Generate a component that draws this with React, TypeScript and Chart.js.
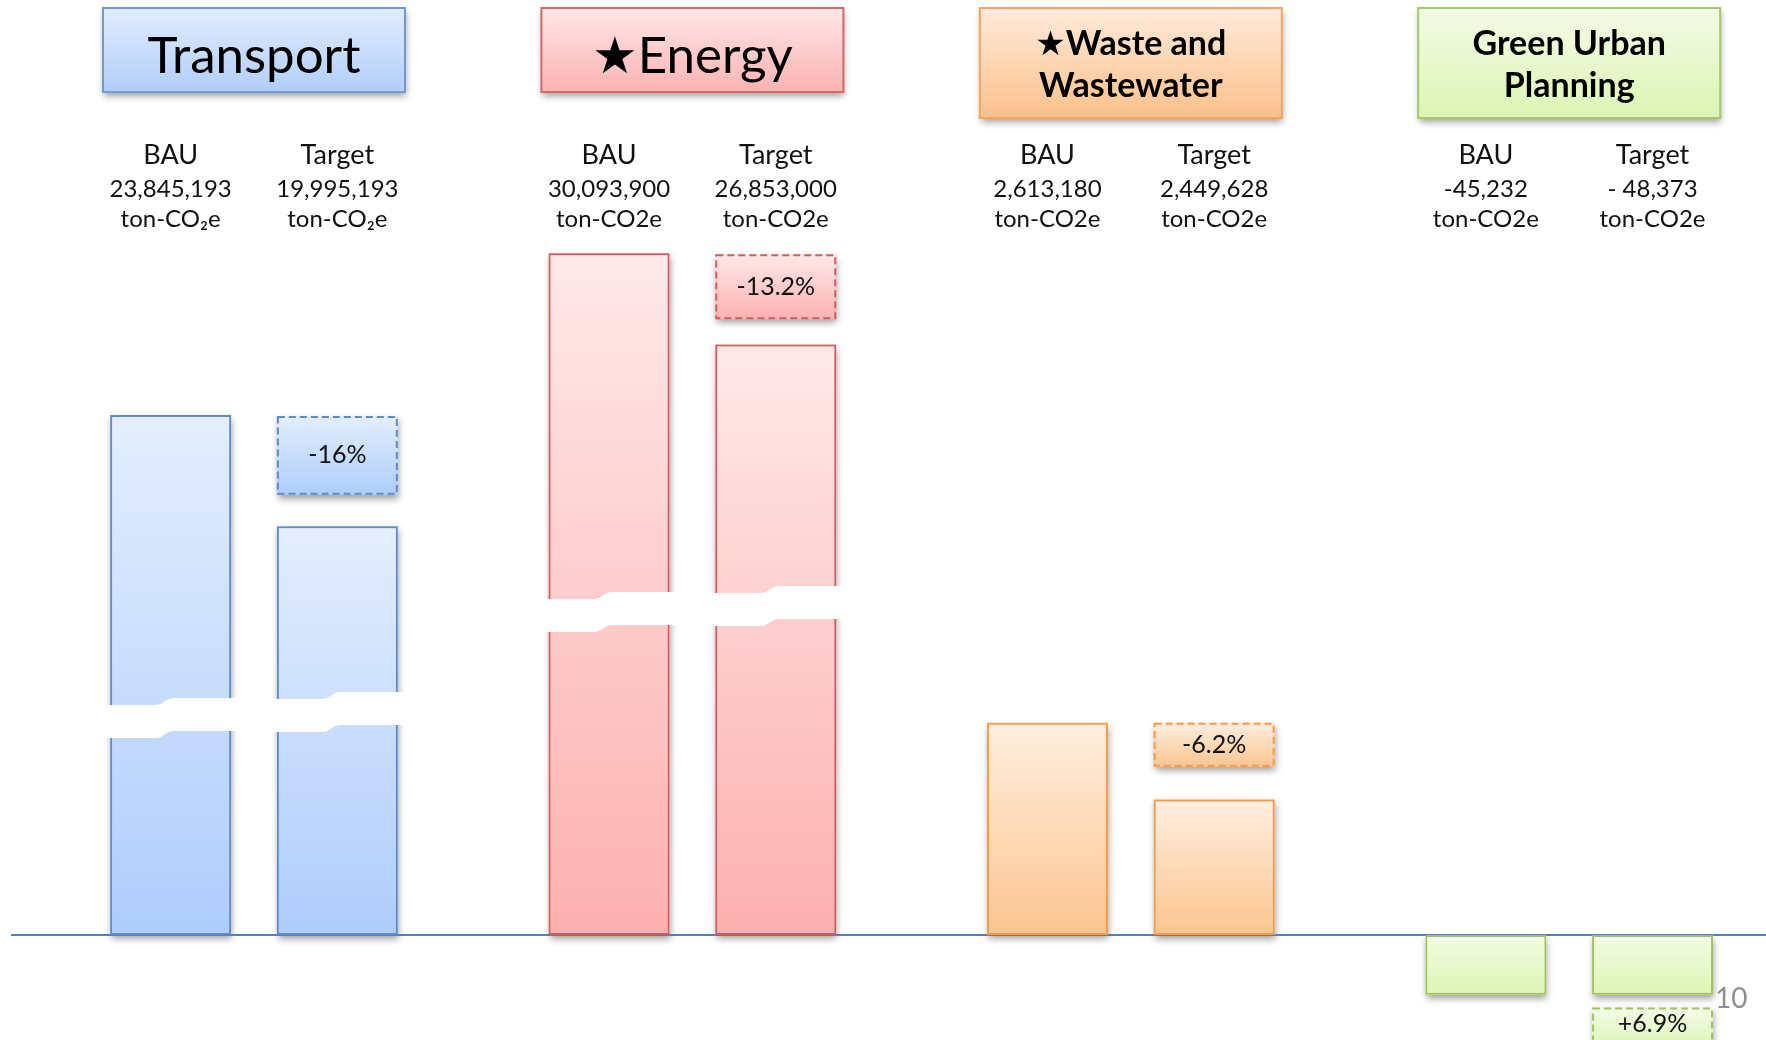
import React, { useEffect, useRef } from 'react';
import { Chart, registerables } from 'chart.js';

Chart.register(...registerables);

// ---- data ----
const sectors = ['Transport', '★Energy', '★Waste and Wastewater', 'Green Urban Planning'];
const sectorTitleLines = [['Transport'], ['★Energy'], ['★Waste and', 'Wastewater'], ['Green Urban', 'Planning']];
const sectorTitleBold = [false, false, true, true];
const scenarioNames = ['BAU', 'Target'];
const bauEmissions = ['23,845,193', '30,093,900', '2,613,180', '-45,232'];
const targetEmissions = ['19,995,193', '26,853,000', '2,449,628', '- 48,373'];
const unitLabels = ['ton-CO₂e', 'ton-CO2e', 'ton-CO2e', 'ton-CO2e'];
const changeLabels = ['-16%', '-13.2%', '-6.2%', '+6.9%'];
// schematic bar heights as drawn (broken value axis, display units)
const bauHeights = [4.95, 6.49, 2.02, -0.57];
const targetHeights = [3.89, 5.62, 1.29, -0.57];
const changeBoxes: [number, number][] = [[4.19, 4.94], [5.86, 6.48], [1.6, 2.02], [-1.1, -0.69]];
const axisBreaks: (number | null)[] = [2.06, 3.07, null, null];
const pageNumber = '10';

// ---- styles ----
const palette = [
  { top: '#e4eefd', bottom: '#aecdfc', border: '#5d8cc9' },
  { top: '#ffe9e9', bottom: '#fdb0b0', border: '#cf5f5c' },
  { top: '#ffeee0', bottom: '#fcc58f', border: '#f79b46' },
  { top: '#f3fbe6', bottom: '#dcf5b3', border: '#a2c262' },
];
const headerPalette = [
  { top: '#e2ecfd', bottom: '#b1cefa', border: '#6f9bd1' },
  { top: '#ffe6e6', bottom: '#fbb3b3', border: '#d46a6a' },
  { top: '#feeadb', bottom: '#fcc18b', border: '#f6a65b' },
  { top: '#f4fbe7', bottom: '#dcf4b2', border: '#a6c86a' },
];
const FONT = 'Lato, "Open Sans", "DejaVu Sans", sans-serif';

function barFill(c: any) {
  const chart = c.chart;
  const ys = chart.scales && chart.scales.y;
  const p = palette[c.dataIndex % palette.length];
  if (!ys || c.type !== 'data') return p.bottom;
  const raw = c.raw;
  let lo: number, hi: number;
  if (Array.isArray(raw)) { lo = Math.min(raw[0], raw[1]); hi = Math.max(raw[0], raw[1]); }
  else { lo = Math.min(0, raw); hi = Math.max(0, raw); }
  const y0 = ys.getPixelForValue(hi);
  const y1 = ys.getPixelForValue(lo);
  if (!isFinite(y0) || !isFinite(y1) || y0 === y1) return p.bottom;
  const g = chart.ctx.createLinearGradient(0, y0, 0, y1);
  g.addColorStop(0, p.top);
  g.addColorStop(1, p.bottom);
  return g;
}

const decorPlugin = {
  id: 'decor',
  beforeDatasetsDraw(chart: any) {
    const ctx = chart.ctx;
    const ys = chart.scales.y;
    const zero = ys.getPixelForValue(0);
    // drop shadows
    ctx.save();
    chart.data.datasets.forEach((_: any, d: number) => {
      const meta = chart.getDatasetMeta(d);
      meta.data.forEach((el: any, i: number) => {
        const top = Math.min(el.y, el.base);
        const h = Math.abs(el.base - el.y);
        ctx.shadowColor = 'rgba(0,0,0,0.38)';
        ctx.shadowBlur = 7;
        ctx.shadowOffsetX = 1;
        ctx.shadowOffsetY = 4;
        ctx.fillStyle = palette[i].bottom;
        ctx.fillRect(el.x - el.width / 2, top, el.width, h);
      });
    });
    ctx.restore();
    // baseline
    ctx.save();
    ctx.strokeStyle = '#4f81bd';
    ctx.lineWidth = 2;
    ctx.beginPath();
    ctx.moveTo(11, zero);
    ctx.lineTo(1766, zero);
    ctx.stroke();
    ctx.restore();
  },
  afterDatasetsDraw(chart: any) {
    const ctx = chart.ctx;
    const ys = chart.scales.y;
    // dashed borders + change labels
    const cmeta = chart.getDatasetMeta(2);
    cmeta.data.forEach((el: any, i: number) => {
      const top = Math.min(el.y, el.base);
      const bottom = Math.max(el.y, el.base);
      const w = el.width;
      ctx.save();
      ctx.strokeStyle = palette[i].border;
      ctx.lineWidth = 2;
      ctx.setLineDash([7, 4]);
      ctx.strokeRect(el.x - w / 2 + 1, top + 1, w - 2, bottom - top - 2);
      ctx.restore();
      const visBottom = Math.min(bottom, chart.height);
      ctx.save();
      ctx.fillStyle = '#111';
      ctx.font = `25px ${FONT}`;
      ctx.textAlign = 'center';
      ctx.textBaseline = 'middle';
      ctx.fillText(changeLabels[i], el.x, (top + visBottom) / 2);
      ctx.restore();
    });
    // axis break marks
    axisBreaks.forEach((lvl, i) => {
      if (lvl == null) return;
      [0, 1].forEach((d) => {
        const el: any = chart.getDatasetMeta(d).data[i];
        const yc = ys.getPixelForValue(lvl) + (d === 0 ? 3 : -3);
        const th = 33, step = 7;
        const L = el.x - el.width / 2 - 8;
        const R = el.x + el.width / 2 + 7;
        const M = el.x - 6;
        const t1 = yc - th / 2, t2 = t1 - step;
        const b1 = yc + th / 2, b2 = b1 - step;
        ctx.save();
        ctx.fillStyle = '#ffffff';
        ctx.beginPath();
        ctx.moveTo(L, t1);
        ctx.lineTo(M - 10, t1);
        ctx.bezierCurveTo(M, t1, M, t2, M + 10, t2);
        ctx.lineTo(R, t2);
        ctx.lineTo(R, b2);
        ctx.lineTo(M + 10, b2);
        ctx.bezierCurveTo(M, b2, M, b1, M - 10, b1);
        ctx.lineTo(L, b1);
        ctx.closePath();
        ctx.fill();
        ctx.restore();
      });
    });
  },
  afterDraw(chart: any) {
    const ctx = chart.ctx;
    const xs = chart.scales.x;
    sectors.forEach((_, i) => {
      const gx = xs.getPixelForValue(i);
      const lines = sectorTitleLines[i];
      const hp = headerPalette[i];
      const w = 302;
      const h = lines.length > 1 ? 110 : 84;
      const x0 = gx - w / 2, y0 = 8;
      ctx.save();
      const g = ctx.createLinearGradient(0, y0, 0, y0 + h);
      g.addColorStop(0, hp.top);
      g.addColorStop(1, hp.bottom);
      ctx.shadowColor = 'rgba(0,0,0,0.38)';
      ctx.shadowBlur = 7;
      ctx.shadowOffsetX = 1;
      ctx.shadowOffsetY = 4;
      ctx.fillStyle = g;
      ctx.fillRect(x0, y0, w, h);
      ctx.restore();
      ctx.save();
      ctx.strokeStyle = hp.border;
      ctx.lineWidth = 2;
      ctx.strokeRect(x0, y0, w, h);
      ctx.fillStyle = '#000';
      ctx.textAlign = 'center';
      ctx.textBaseline = 'alphabetic';
      if (lines.length === 1) {
        ctx.font = `${sectorTitleBold[i] ? 'bold ' : ''}51px ${FONT}`;
        ctx.fillText(lines[0], gx, 73);
      } else {
        ctx.font = `${sectorTitleBold[i] ? 'bold ' : ''}34px ${FONT}`;
        ctx.fillText(lines[0], gx, 55);
        ctx.fillText(lines[1], gx, 97);
      }
      ctx.restore();
      // scenario labels
      [0, 1].forEach((d) => {
        const el: any = chart.getDatasetMeta(d).data[i];
        const value = d === 0 ? bauEmissions[i] : targetEmissions[i];
        ctx.save();
        ctx.fillStyle = '#111';
        ctx.textAlign = 'center';
        ctx.textBaseline = 'alphabetic';
        ctx.font = `27px ${FONT}`;
        ctx.fillText(scenarioNames[d], el.x, 164);
        ctx.font = `24px ${FONT}`;
        ctx.fillText(value, el.x, 197);
        ctx.fillText(unitLabels[i], el.x, 227);
        ctx.restore();
      });
    });
    ctx.save();
    ctx.fillStyle = '#8f8f8f';
    ctx.font = `28px ${FONT}`;
    ctx.textAlign = 'left';
    ctx.textBaseline = 'alphabetic';
    ctx.fillText(pageNumber, 1715, 1008);
    ctx.restore();
  },
};

export default function App() {
  const ref = useRef<HTMLCanvasElement | null>(null);
  useEffect(() => {
    if (!ref.current) return;
    const common = {
      backgroundColor: barFill,
      categoryPercentage: 0.7605,
      barPercentage: 0.7256,
      borderSkipped: false,
    };
    const chart = new Chart(ref.current, {
      type: 'bar',
      data: {
        labels: sectors,
        datasets: [
          { ...common, label: scenarioNames[0], data: bauHeights, stack: 'bau', borderColor: palette.map((p) => p.border), borderWidth: 2 } as any,
          { ...common, label: scenarioNames[1], data: targetHeights, stack: 'target', borderColor: palette.map((p) => p.border), borderWidth: 2 } as any,
          { ...common, label: 'Change', data: changeBoxes, stack: 'target', borderWidth: 0 } as any,
        ],
      },
      options: {
        responsive: false,
        animation: false,
        events: [],
        layout: { padding: { left: 34.8, right: 11.6, top: 0, bottom: 0 } },
        scales: {
          x: { display: false, stacked: true, offset: true, grid: { display: false } },
          y: { display: false, stacked: false, min: -1, max: 8.9, grid: { display: false } },
        },
        plugins: { legend: { display: false }, tooltip: { enabled: false }, title: { display: false } },
      },
      plugins: [decorPlugin],
    });
    return () => chart.destroy();
  }, []);
  return (
    <div style={{ position: 'fixed', left: 0, top: 0, width: 1766, height: 1040, overflow: 'hidden', background: '#fff' }}>
      <canvas ref={ref} width={1800} height={1040} style={{ width: 1800, height: 1040, display: 'block' }} />
    </div>
  );
}
